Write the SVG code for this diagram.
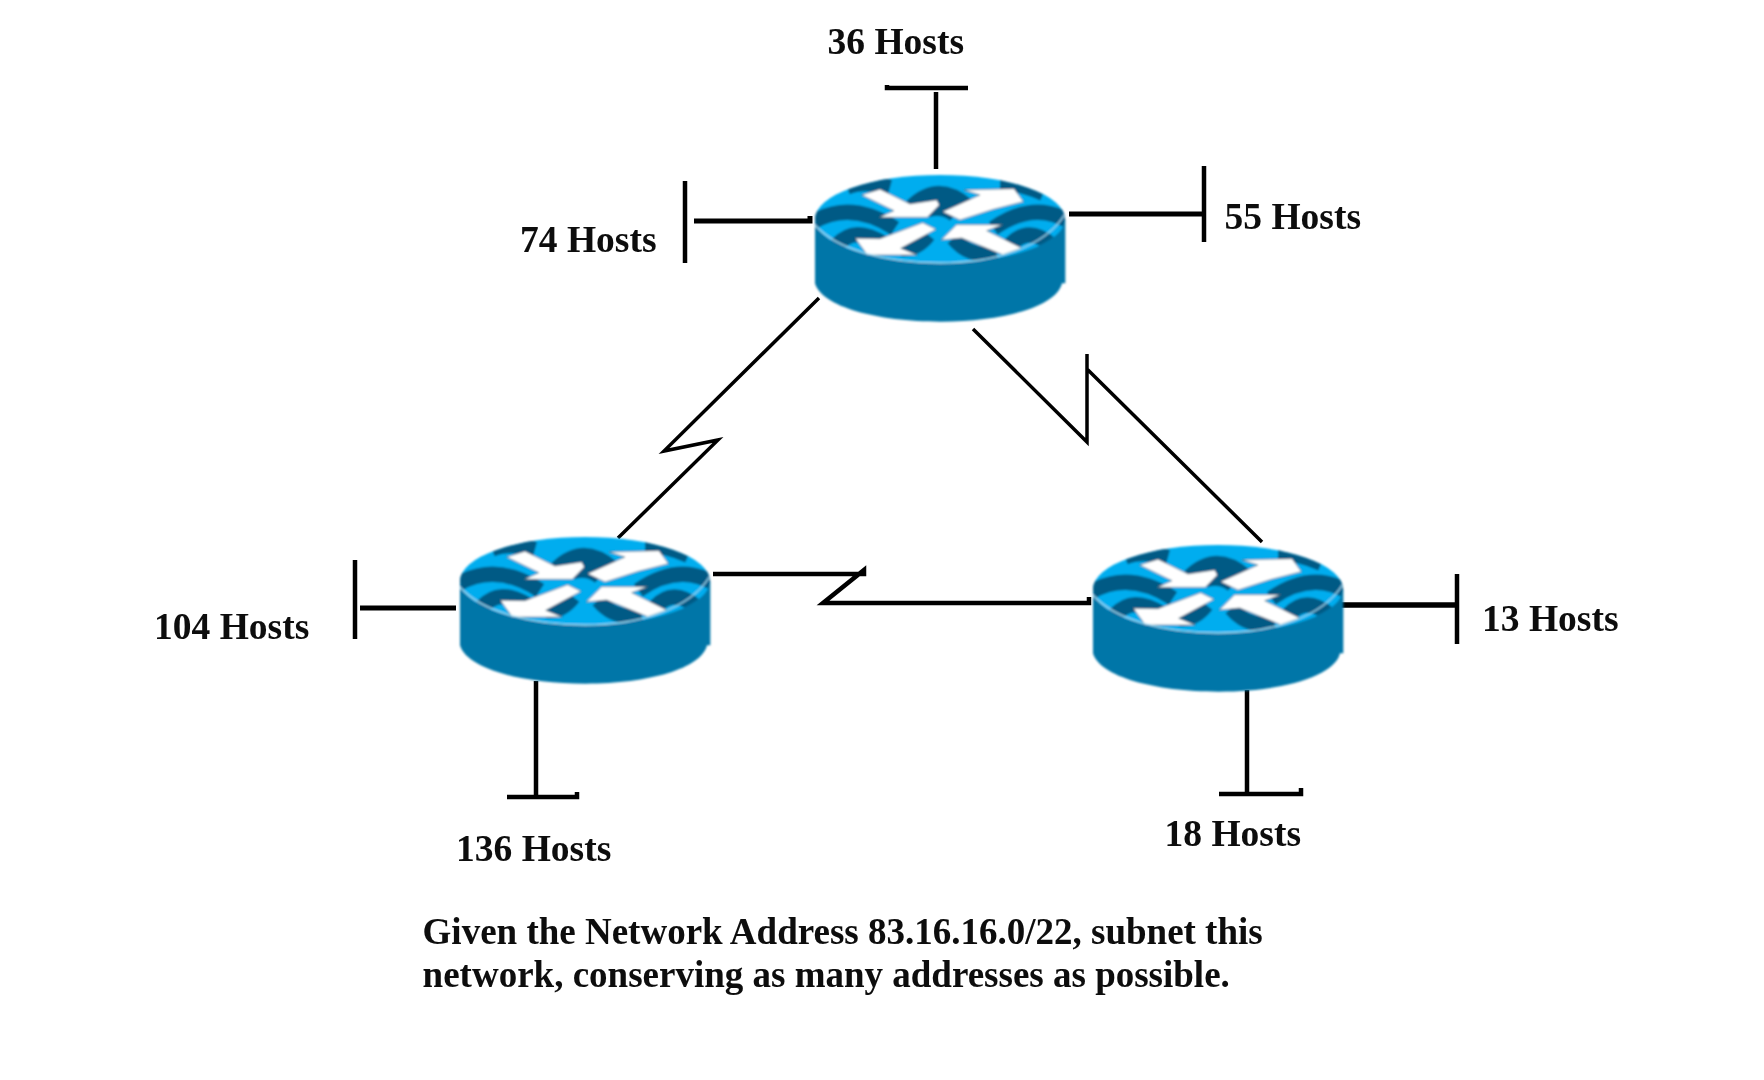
<svg xmlns="http://www.w3.org/2000/svg" xmlns:xlink="http://www.w3.org/1999/xlink" width="1764" height="1080" viewBox="0 0 1764 1080">
<style>
.w{fill:none;stroke:#000;stroke-linejoin:miter}
.t{font-family:"Liberation Serif","Times New Roman",serif;font-weight:bold;font-size:37.5px;fill:#0a0a0a}
.m{font-size:37px}
.wv{fill:none;stroke:#005a85;stroke-width:46}
.ar{fill:#fff;stroke:#3a4a55;stroke-width:1.5}
</style>
<defs>
<filter id="soft" x="-5%" y="-5%" width="110%" height="110%"><feGaussianBlur stdDeviation="0.8"/></filter>
<filter id="soft2" x="0" y="0" width="1764" height="1080" filterUnits="userSpaceOnUse"><feGaussianBlur stdDeviation="0.5"/></filter>
<clipPath id="topclip"><ellipse cx="480" cy="207" rx="375" ry="132"/></clipPath>
<g id="router" filter="url(#soft)">
<g transform="translate(780 150) scale(0.33333)">
<path d="M105,207 L105,400 C125,470 290,515 482,515 C670,515 830,470 846,400 L856,400 L856,207 Z" fill="#0076a8"/>
<ellipse cx="480" cy="207" rx="375" ry="132" fill="#00adef"/>
<g clip-path="url(#topclip)">
<path class="wv" d="M100,215 Q215,150 345,235"/>
<path class="wv" d="M170,285 Q225,225 310,280"/>
<path class="wv" d="M200,112 Q250,90 330,112"/>
<path class="wv" d="M395,170 Q475,90 565,170"/>
<path class="wv" d="M640,235 Q760,150 870,215"/>
<path class="wv" d="M690,285 Q745,225 815,285"/>
<path class="wv" d="M660,100 Q720,100 790,130"/>
<path class="wv" d="M520,265 Q570,325 650,310"/>
<path class="wv" d="M365,295 Q410,300 445,255" stroke-width="30"/>
<path class="wv" d="M440,180 Q490,165 525,195" stroke-width="26"/>
<path class="ar" d="M245,135 300,118 390,162 470,150 478,165 442,202 298,202 342,182 Z"/>
<path class="ar" d="M488,185 600,135 552,120 702,116 730,155 640,178 540,210 Z"/>
<path class="ar" d="M226,265 300,266 428,218 468,238 362,295 412,315 262,315 Z"/>
<path class="ar" d="M484,270 530,224 668,224 620,242 725,294 668,314 545,264 Z"/>
</g>
<path d="M105,225 C170,300 320,339 480,339 C645,339 795,290 853,195" fill="none" stroke="#9fdcf3" stroke-width="4"/>
</g>
</g>
</defs>
<rect width="1764" height="1080" fill="#fff"/>
<g id="connectors" filter="url(#soft2)">
<path class="w" stroke-width="4.5" d="M936,169V92M887,85V88H968"/>
<path class="w" stroke-width="4.5" d="M685,181V263"/>
<path class="w" stroke-width="5" d="M694,221H810V216"/>
<path class="w" stroke-width="5" d="M1069,214H1204"/>
<path class="w" stroke-width="4.5" d="M1204,166V242"/>
<path class="w" stroke-width="3.5" d="M819,298L664,451L718,440L618,538"/>
<path class="w" stroke-width="3.5" d="M973,329L1087,442V354V369L1262,542"/>
<path class="w" stroke-width="4.5" d="M355,560V639"/>
<path class="w" stroke-width="5" d="M360,608H456"/>
<path class="w" stroke-width="4.5" d="M536,681V796M507,797H577V792"/>
<path class="w" stroke-width="4.5" d="M713,574H864V570L823,603H1089V597"/>
<path class="w" stroke-width="5.5" d="M1341,605H1457"/>
<path class="w" stroke-width="4.5" d="M1457,574V644"/>
<path class="w" stroke-width="4.5" d="M1247,690V793M1219,794H1301V788"/>
</g>
<g id="router-top"><use xlink:href="#router" href="#router"/></g>
<g id="router-left"><use xlink:href="#router" href="#router" x="-355" y="362"/></g>
<g id="router-right"><use xlink:href="#router" href="#router" x="278" y="370"/></g>
<g id="labels" filter="url(#soft2)">
<text class="t" x="827.5" y="54">36 Hosts</text>
<text class="t" x="520" y="252">74 Hosts</text>
<text class="t" x="1224.5" y="229">55 Hosts</text>
<text class="t" x="154" y="638.6">104 Hosts</text>
<text class="t" x="456" y="860.6">136 Hosts</text>
<text class="t" x="1482" y="630.6">13 Hosts</text>
<text class="t" x="1164.5" y="845.5">18 Hosts</text>
<text class="t m" x="422.6" y="943.5">Given the Network Address 83.16.16.0/22, subnet this</text>
<text class="t m" x="422.6" y="986.5">network, conserving as many addresses as possible.</text>
</g>
</svg>
